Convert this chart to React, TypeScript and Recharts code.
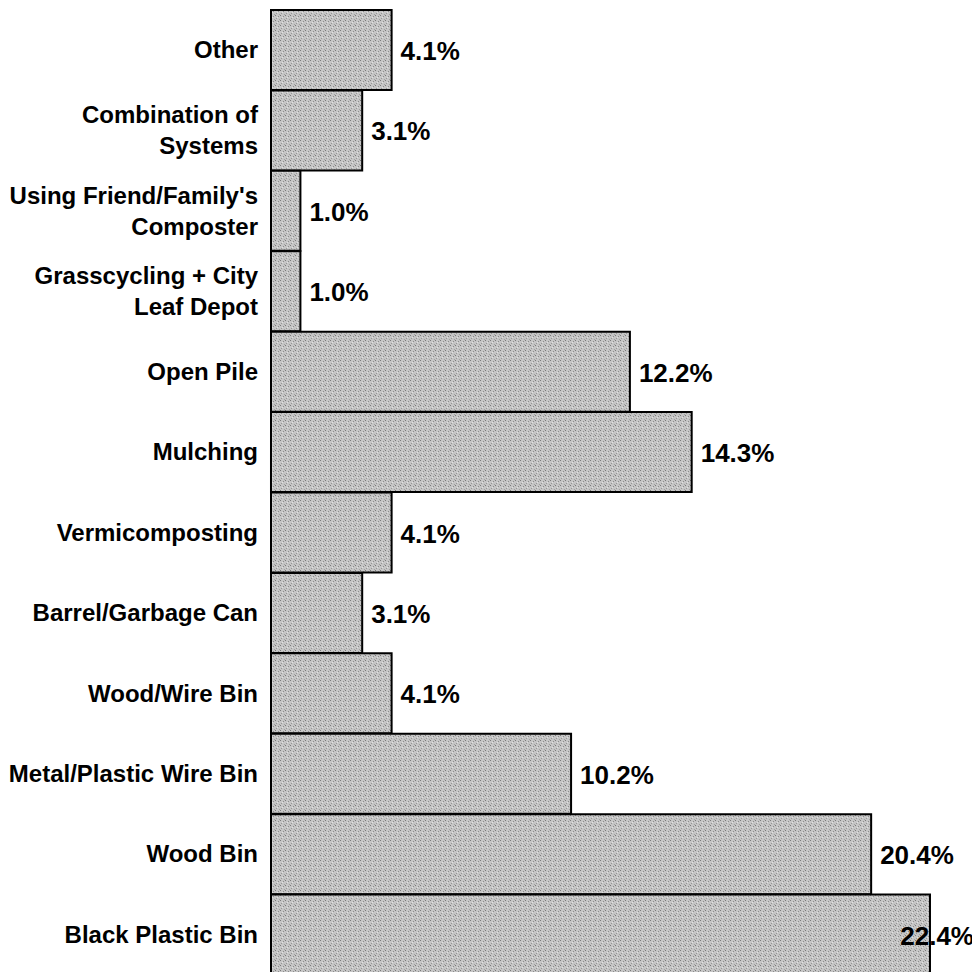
import { BarChart, Bar, XAxis, YAxis, LabelList } from 'recharts';

// composting method shares, read top to bottom
const methods = [
  'Other',
  'Combination of|Systems',
  "Using Friend/Family's|Composter",
  'Grasscycling + City|Leaf Depot',
  'Open Pile',
  'Mulching',
  'Vermicomposting',
  'Barrel/Garbage Can',
  'Wood/Wire Bin ',
  'Metal/Plastic Wire Bin',
  'Wood Bin',
  'Black Plastic Bin',
];
const shares = [4.1, 3.1, 1.0, 1.0, 12.2, 14.3, 4.1, 3.1, 4.1, 10.2, 20.4, 22.4];

const data = methods.map((name, i) => ({ name, val: shares[i] }));

const W = 980;
const FONT = '"Liberation Sans", Arial, Helvetica, sans-serif';

const MethodTick = (props: any) => {
  const { x, y, payload } = props;
  const lines = String(payload.value).split('|');
  const lh = 31;
  const start = -((lines.length - 1) * lh) / 2;
  return (
    <text
      x={x}
      y={y}
      textAnchor="end"
      fontFamily={FONT}
      fontWeight="bold"
      fontSize={24}
      fill="#000"
    >
      {lines.map((l, i) => (
        <tspan key={i} x={x} dy={i === 0 ? start + 8 : lh}>
          {l}
        </tspan>
      ))}
    </text>
  );
};

const PctLabel = (props: any) => {
  const { x, y, width, height, value } = props;
  const end = Number(x) + Number(width);
  const cy = Number(y) + Number(height) / 2 + 10;
  const label = Number(value).toFixed(1) + '%';
  const tooWide = end + 10 + 72 > W - 4;
  return (
    <text
      x={tooWide ? W - 6 : end + 9}
      y={cy}
      textAnchor={tooWide ? 'end' : 'start'}
      fontFamily={FONT}
      fontWeight="bold"
      fontSize={26}
      fill="#000"
    >
      {label}
    </text>
  );
};

export default function App() {
  return (
    <div style={{ marginLeft: -8, marginTop: -8, background: '#fff', width: W, height: 972, overflow: 'hidden' }}>
      <BarChart
        width={W}
        height={975}
        data={data}
        layout="vertical"
        barCategoryGap={0}
        margin={{ top: 10, right: 0, bottom: 0, left: 0 }}
      >
        <defs>
          <pattern id="stipple" width="5" height="5" patternUnits="userSpaceOnUse">
            <rect width="5" height="5" fill="#c6c6c6" />
            <rect x="0" y="0" width="1" height="1" fill="#7a7a7a" />
            <rect x="3" y="1" width="1" height="1" fill="#8c8c8c" />
            <rect x="1" y="3" width="1" height="1" fill="#969696" />
            <rect x="4" y="4" width="1" height="1" fill="#a0a0a0" />
            <rect x="2" y="2" width="1" height="1" fill="#e2e2e2" />
          </pattern>
        </defs>
        <XAxis type="number" domain={[0, 24.1]} hide />
        <YAxis
          type="category"
          dataKey="name"
          width={271}
          axisLine={false}
          tickLine={false}
          tickMargin={7}
          interval={0}
          tick={<MethodTick />}
        />
        <Bar dataKey="val" fill="url(#stipple)" stroke="#000" strokeWidth={2} isAnimationActive={false}>
          <LabelList dataKey="val" content={<PctLabel />} />
        </Bar>
      </BarChart>
    </div>
  );
}
